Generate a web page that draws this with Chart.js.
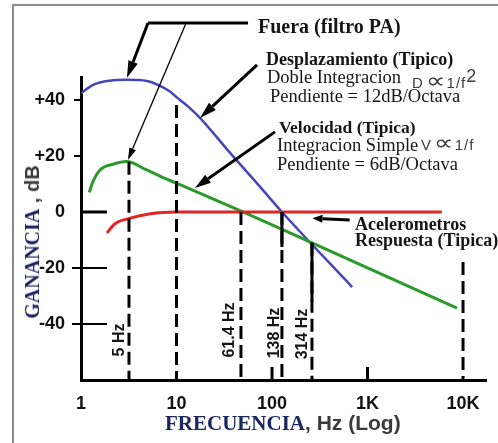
<!DOCTYPE html>
<html><head><meta charset="utf-8">
<script src="https://cdn.jsdelivr.net/npm/chart.js@4/dist/chart.umd.min.js"></script>
<style>
html,body{margin:0;padding:0;background:#fff;}
#wrap{position:relative;width:498px;height:443px;overflow:hidden;background:#fff;}
#frame{position:absolute;left:12px;top:4px;width:490px;height:445px;border-left:2px solid #8c8c8c;border-top:2px solid #8c8c8c;}
canvas{position:absolute;left:0;top:0;}
.t{position:absolute;white-space:nowrap;line-height:1;color:#151515;}
.serif{font-family:"Liberation Serif","Times New Roman",serif;}
.sans{font-family:"Liberation Sans",Arial,sans-serif;}
.b{font-weight:bold;}
.rot{transform:translate(-50%,-50%) rotate(-90deg);}
.navy{color:#1b2660;}
.gray{color:#3a3a3a;}
.sym{position:absolute;white-space:nowrap;line-height:15px;height:15px;color:#3c3c3c;font-family:"Liberation Sans",Arial,sans-serif;font-size:15px;letter-spacing:1px;}
.prop{display:inline-block;font-family:"DejaVu Sans",sans-serif;font-size:22px;line-height:15px;transform:scaleX(1.25);margin:0 3px 0 4px;letter-spacing:0;}
.sup{display:inline-block;font-size:18px;line-height:15px;position:relative;top:-6px;margin-left:0;}
</style></head>
<body><div id="wrap"><div id="frame"></div><canvas id="c" width="498" height="443"></canvas>
<div class="t serif b" style="left:258px;top:16px;font-size:20px;">Fuera (filtro PA)</div>
<div class="t serif b" style="left:266px;top:50px;font-size:18px;">Desplazamiento (Tipico)</div>
<div class="t serif" style="left:267px;top:68px;font-size:18.5px;">Doble Integracion</div>
<div class="sym" style="left:412px;top:73px;">D<span class="prop">∝</span>1/f<span class="sup">2</span></div>
<div class="t serif" style="left:270px;top:87px;font-size:18.5px;">Pendiente = 12dB/Octava</div>
<div class="t serif b" style="left:279px;top:118.5px;font-size:17.5px;">Velocidad (Tipica)</div>
<div class="t serif" style="left:277px;top:136px;font-size:18.5px;">Integracion Simple</div>
<div class="sym" style="left:421px;top:135px;">V<span class="prop">∝</span>1/f</div>
<div class="t serif" style="left:277px;top:154.5px;font-size:18.5px;">Pendiente = 6dB/Octava</div>
<div class="t serif b" style="left:355px;top:214.5px;font-size:18px;">Acelerometros</div>
<div class="t serif b" style="left:355px;top:231px;font-size:18px;">Respuesta (Tipica)</div>
<div class="t rot" style="left:32px;top:242px;"><span class="serif b navy" style="font-size:20px;">GANANCIA</span><span class="sans b gray" style="font-size:20px;"> , dB</span></div>
<div class="t" style="left:165px;top:412px;"><span class="serif b navy" style="font-size:21px;">FRECUENCIA</span><span class="sans b gray" style="font-size:21px;">, Hz (Log)</span></div>
<div class="t sans b rot" style="left:118.5px;top:340px;font-size:16px;">5 Hz</div>
<div class="t sans b rot" style="left:229px;top:330px;font-size:16px;">61.4 Hz</div>
<div class="t sans b rot" style="left:274px;top:333px;font-size:16px;">138 Hz</div>
<div class="t sans b rot" style="left:302px;top:334px;font-size:16px;">314 Hz</div>
</div>
<script>
// ---- data ----
const freqDesplazamiento = [1, 1.34, 2, 3, 4.9, 6.4, 8.55, 10, 13.8, 17.6, 36.4, 69, 127, 690];
const gainDesplazamiento = [42.4, 45.4, 46.9, 47.2, 46.8, 45.4, 43, 41, 37.1, 33.6, 21.1, 10.4, 0, -26.8];
const freqVelocidad = [1.22, 1.32, 1.58, 2.18, 3.0, 4.87, 7.22, 10, 49.6, 262, 8650];
const gainVelocidad = [7.0, 10.5, 15.0, 17.1, 18.0, 15.0, 12.3, 10.3, 0, -11, -34.3];
const freqAcelerometro = [1.87, 2.27, 3.2, 5.3, 10, 6000];
const gainAcelerometro = [-7.5, -4.2, -2.3, -0.6, 0, 0];
const markerFreq = [3.18, 10, 47.3, 127, 262, 10000];
const markerTopGain = [17.9, 38.2, 0, 0, -11, -17.9];
const markerSolidTo = [null, null, null, -12.5, -32, null];
const xTickValues = [1, 10, 100, 1000, 10000];
const xTickLabels = ['1', '10', '100', '1K', '10K'];
const yTickValues = [40, 20, 0, -20, -40];
const yTickLabels = ['+40', '+20', '0', '-20', '-40'];
const yMin = -60, yMax = 48.2, xMin = 1, xMax = 17400;

const pts = (xs, ys) => xs.map((x, i) => ({x, y: ys[i]}));
const datasets = [];
markerFreq.forEach((f, i) => {
  datasets.push({data: [{x: f, y: markerTopGain[i]}, {x: f, y: yMin}], borderColor: '#000', borderWidth: 3, borderDash: [13, 6], pointRadius: 0, tension: 0});
  if (markerSolidTo[i] !== null) {
    datasets.push({data: [{x: f, y: markerTopGain[i]}, {x: f, y: markerSolidTo[i]}], borderColor: '#000', borderWidth: 3, pointRadius: 0, tension: 0});
  }
});
datasets.push({data: pts(freqAcelerometro, gainAcelerometro), borderColor: '#e02525', borderWidth: 3, pointRadius: 0, cubicInterpolationMode: 'monotone'});
datasets.push({data: pts(freqVelocidad, gainVelocidad), borderColor: '#2a9a2a', borderWidth: 3, pointRadius: 0, cubicInterpolationMode: 'monotone'});
datasets.push({data: pts(freqDesplazamiento, gainDesplazamiento), borderColor: '#4646b8', borderWidth: 2.5, pointRadius: 0, cubicInterpolationMode: 'monotone'});

// annotation arrows in data coordinates [fromX, fromY, toX, toY, lineWidth, headLen, headW]
const arrows = [
  [5.03, 67.5, 3.03, 47.9, 3, 17, 10],
  [12.6, 67.5, 3.1, 18.6, 1.3, 12, 7],
  [69.7, 52.5, 17.6, 33.6, 3, 17, 10],
  [107.5, 28.6, 15.6, 8.6, 3, 16, 10],
  [650, -2.9, 265, -2.2, 3, 10, 8]
];
const bar = [5.03, 56.1, 67.5];

function arrow(ctx, x1, y1, x2, y2, lw, hl, hw) {
  const a = Math.atan2(y2 - y1, x2 - x1);
  const bx = x2 - hl * Math.cos(a), by = y2 - hl * Math.sin(a);
  ctx.lineWidth = lw; ctx.beginPath(); ctx.moveTo(x1, y1); ctx.lineTo(bx, by); ctx.stroke();
  ctx.beginPath(); ctx.moveTo(x2, y2);
  ctx.lineTo(bx + hw / 2 * Math.sin(a), by - hw / 2 * Math.cos(a));
  ctx.lineTo(bx - hw / 2 * Math.sin(a), by + hw / 2 * Math.cos(a));
  ctx.closePath(); ctx.fill();
}

const decor = {
  id: 'decor',
  afterDraw(chart) {
    const {ctx, scales: {x, y}} = chart;
    ctx.save();
    ctx.strokeStyle = '#000'; ctx.fillStyle = '#000'; ctx.lineCap = 'butt';
    const ax = x.getPixelForValue(xMin), ay = y.getPixelForValue(yMin);
    yTickValues.forEach(v => {
      const py = y.getPixelForValue(v);
      ctx.beginPath();
      if (v > 0) { ctx.lineWidth = 2; ctx.moveTo(ax - 7, py); ctx.lineTo(ax, py); }
      else if (v === 0) { ctx.lineWidth = 3; ctx.moveTo(ax, py); ctx.lineTo(ax + 26, py); }
      else { ctx.lineWidth = 2; ctx.moveTo(ax - 9, py); ctx.lineTo(ax + 26, py); }
      ctx.stroke();
    });
    [100, 1000].forEach(v => {
      const px = x.getPixelForValue(v);
      ctx.lineWidth = 3; ctx.beginPath(); ctx.moveTo(px, ay); ctx.lineTo(px, ay - 13); ctx.stroke();
    });
    ctx.lineWidth = 3; ctx.beginPath();
    ctx.moveTo(x.getPixelForValue(bar[0]), y.getPixelForValue(bar[2]));
    ctx.lineTo(x.getPixelForValue(bar[1]), y.getPixelForValue(bar[2])); ctx.stroke();
    arrows.forEach(a => arrow(ctx, x.getPixelForValue(a[0]), y.getPixelForValue(a[1]), x.getPixelForValue(a[2]), y.getPixelForValue(a[3]), a[4], a[5], a[6]));
    ctx.restore();
  }
};

new Chart(document.getElementById('c'), {
  type: 'line',
  data: {datasets},
  options: {
    responsive: false, animation: false, devicePixelRatio: 1,
    layout: {padding: {top: 77, right: 12, left: 0, bottom: 0}},
    plugins: {legend: {display: false}, tooltip: {enabled: false}},
    scales: {
      x: {
        type: 'logarithmic', min: xMin, max: xMax, bounds: 'data',
        grid: {display: false},
        border: {display: true, color: '#000', width: 3},
        afterBuildTicks: s => { s.ticks = xTickValues.map(v => ({value: v})); },
        afterFit: s => { s.height = 63; },
        ticks: {
          autoSkip: false, maxRotation: 0, padding: 5, color: '#111',
          font: {family: '"Liberation Sans", Arial, sans-serif', size: 18, weight: 'bold'},
          callback: (v) => { const i = xTickValues.indexOf(v); return i >= 0 ? xTickLabels[i] : ''; }
        }
      },
      y: {
        type: 'linear', min: yMin, max: yMax,
        grid: {display: false},
        border: {display: true, color: '#000', width: 3},
        afterBuildTicks: s => { s.ticks = yTickValues.map(v => ({value: v})); },
        afterFit: s => { s.width = 81; },
        ticks: {
          padding: 8, color: '#111',
          font: {family: '"Liberation Sans", Arial, sans-serif', size: 18, weight: 'bold'},
          callback: (v) => { const i = yTickValues.indexOf(v); return i >= 0 ? yTickLabels[i] : ''; }
        }
      }
    }
  },
  plugins: [decor]
});
</script>
</body></html>
